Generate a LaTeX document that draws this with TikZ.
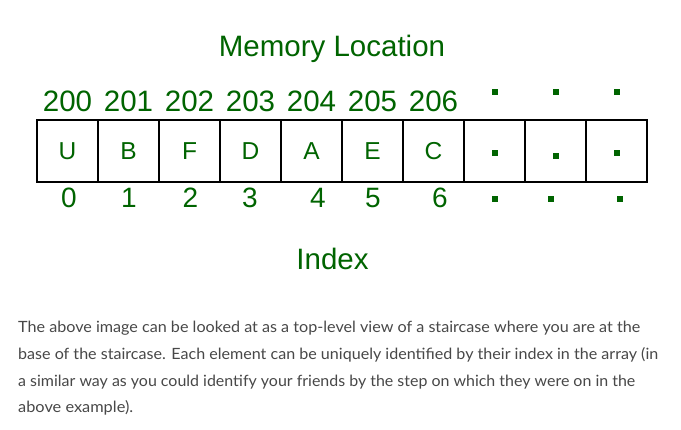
\documentclass[tikz,border=0pt]{standalone}
\usepackage{fontspec}
\usepackage{graphicx}
\setmainfont{Liberation Sans}
\newfontfamily\parafont{Lato}
\definecolor{memgreen}{RGB}{0,100,0}
\definecolor{paragray}{RGB}{72,72,72}
\tikzset{
  cell/.style={draw=black, line width=2.9pt, minimum width=61pt, minimum height=62pt, inner sep=0pt,
    text=memgreen, font=\fontsize{24.5}{25}\selectfont},
  addr/.style={anchor=base, inner sep=0pt, text=memgreen, font=\fontsize{29.5}{30}\selectfont},
  idx/.style={anchor=base, inner sep=0pt, text=memgreen, font=\fontsize{28}{28}\selectfont},
  heading/.style={anchor=base, inner sep=0pt, text=memgreen, font=\fontsize{29.5}{30}\selectfont},
  gdot/.style={fill=memgreen, draw=none, minimum size=6pt, inner sep=0pt},
  para/.style={anchor=base west, inner sep=0pt, text=paragray, font=\parafont\fontsize{15.5}{18}\selectfont},
}
\begin{document}
\begin{tikzpicture}[x=1pt,y=-1pt]
\useasboundingbox[fill=white] (0,0) rectangle (681,430);
% title
\node[heading] (title) at (332,57) {Memory Location};
% addresses
\node[addr] (a0) at (67.5,112) {200};
\node[addr] (a1) at (128.5,112) {201};
\node[addr] (a2) at (189.5,112) {202};
\node[addr] (a3) at (250.5,112) {203};
\node[addr] (a4) at (311.5,112) {204};
\node[addr] (a5) at (372.5,112) {205};
\node[addr] (a6) at (433.5,112) {206};
\node[gdot] (a7) at (494.5,92) {};
\node[gdot] (a8) at (555.5,92) {};
\node[gdot] (a9) at (616.5,92) {};
% cells
\node[cell] (c0) at (67.5,151) {U};
\node[cell] (c1) at (128.5,151) {B};
\node[cell] (c2) at (189.5,151) {F};
\node[cell] (c3) at (250.5,151) {D};
\node[cell] (c4) at (311.5,151) {A};
\node[cell] (c5) at (372.5,151) {E};
\node[cell] (c6) at (433.5,151) {C};
\node[cell] (c7) at (494.5,151) {};
\node[cell] (c8) at (555.5,151) {};
\node[cell] (c9) at (616.5,151) {};
\node[gdot] (d7) at (494.5,153) {};
\node[gdot] (d8) at (555.5,156) {};
\node[gdot] (d9) at (616.5,153) {};
% indices
\node[idx] (i0) at (69,208) {0};
\node[idx] (i1) at (129,208) {1};
\node[idx] (i2) at (190.5,208) {2};
\node[idx] (i3) at (250,208) {3};
\node[idx] (i4) at (318,208) {4};
\node[idx] (i5) at (373,208) {5};
\node[idx] (i6) at (440,208) {6};
\node[gdot] (i7) at (495,199) {};
\node[gdot] (i8) at (551,199) {};
\node[gdot] (i9) at (620,199) {};
\node[heading] (index) at (332.5,270) {Index};
% paragraph
\node[para] (p1) at (18,333) {\resizebox{622pt}{\height}{The above image can be looked at as a top-level view of a staircase where you are at the}};
\node[para] (p2) at (18,360) {\resizebox{640pt}{\height}{base of the staircase. Each element can be uniquely identified by their index in the array (in}};
\node[para] (p3) at (18,387) {\resizebox{617pt}{\height}{a similar way as you could identify your friends by the step on which they were on in the}};
\node[para] (p4) at (18,413) {\resizebox{115pt}{\height}{above example).}};
\end{tikzpicture}
\end{document}
